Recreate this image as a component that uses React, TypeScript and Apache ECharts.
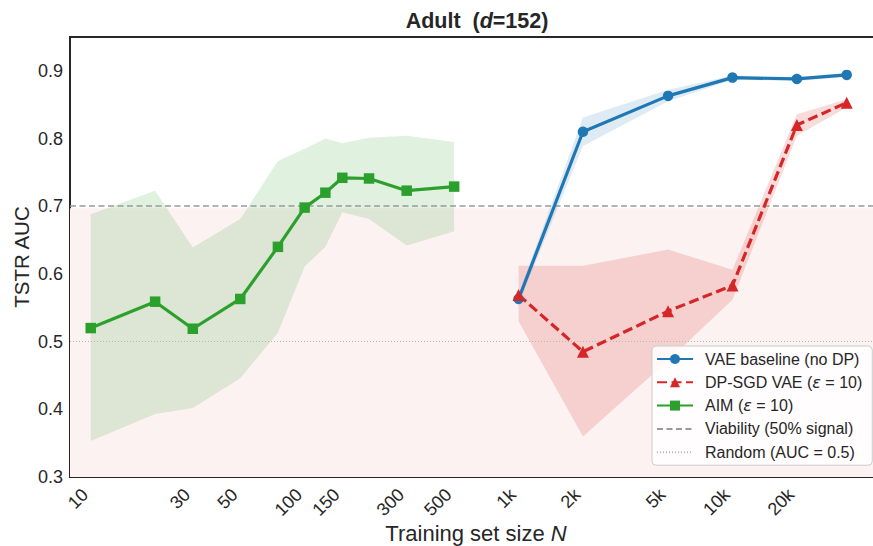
import React, { useEffect, useRef } from "react";
import * as echarts from "echarts";

// ---------- data ----------
const X_TICK_VALUES = [10, 30, 50, 100, 150, 300, 500, 1000, 2000, 5000, 10000, 20000];
const X_TICK_LABELS = ["10", "30", "50", "100", "150", "300", "500", "1k", "2k", "5k", "10k", "20k"];
const Y_TICK_VALUES = [0.3, 0.4, 0.5, 0.6, 0.7, 0.8, 0.9];

const AIM_N = [10, 20, 30, 50, 75, 100, 125, 150, 200, 300, 500];
const AIM_MEAN = [0.52, 0.559, 0.519, 0.563, 0.64, 0.698, 0.72, 0.742, 0.741, 0.723, 0.729];
const AIM_LOW = [0.353, 0.393, 0.402, 0.446, 0.513, 0.611, 0.64, 0.691, 0.681, 0.642, 0.663];
const AIM_HIGH = [0.688, 0.723, 0.639, 0.681, 0.767, 0.785, 0.8, 0.793, 0.801, 0.804, 0.795];

const VAE_N = [1000, 2000, 5000, 10000, 20000, 34189];
const VAE_MEAN = [0.563, 0.81, 0.863, 0.89, 0.888, 0.894];
const VAE_LOW = [0.556, 0.789, 0.855, 0.887, 0.885, 0.891];
const VAE_HIGH = [0.57, 0.831, 0.872, 0.893, 0.891, 0.897];

const DP_N = [1000, 2000, 5000, 10000, 20000, 34189];
const DP_MEAN = [0.569, 0.485, 0.545, 0.583, 0.82, 0.853];
const DP_LOW = [0.53, 0.36, 0.472, 0.562, 0.804, 0.846];
const DP_HIGH = [0.612, 0.612, 0.636, 0.606, 0.836, 0.858];

const VIABILITY = 0.697;
const RANDOM = 0.5;

const SERIES_NAMES = [
  "VAE baseline (no DP)",
  "DP-SGD VAE (ε = 10)",
  "AIM (ε = 10)",
  "Viability (50% signal)",
  "Random (AUC = 0.5)",
];

const FONT = "'Liberation Sans', Arial, Helvetica, sans-serif";
const INK = "#262626";
const BLUE = "#1f77b4";
const RED = "#d62728";
const GREEN = "#2ca02c";

function bandSeries(name: string, xs: number[], low: number[], high: number[], fill: string) {
  return {
    type: "custom",
    name,
    silent: true,
    z: 1,
    data: xs.map((x, i) => [x, low[i], high[i]]),
    encode: { x: 0, y: [1, 2] },
    renderItem: (params: any, api: any) => {
      if (params.dataIndex !== 0) return null;
      const pts: number[][] = [];
      for (let i = 0; i < xs.length; i++) pts.push(api.coord([xs[i], high[i]]));
      for (let i = xs.length - 1; i >= 0; i--) pts.push(api.coord([xs[i], low[i]]));
      return { type: "polygon", shape: { points: pts }, style: { fill } };
    },
  };
}

function lineSeries(name: string, xs: number[], ys: number[], color: string, symbol: string, symbolSize: number, dash: any) {
  return {
    type: "line",
    name,
    z: 5,
    data: xs.map((x, i) => [x, ys[i]]),
    symbol,
    symbolSize,
    showSymbol: true,
    lineStyle: { color, width: 3.2, type: dash },
    itemStyle: { color },
  };
}

function refLineSeries(name: string, y: number, color: string, width: number, dash: any) {
  return {
    type: "line",
    name,
    data: [],
    z: 3,
    symbol: "none",
    lineStyle: { color, width, type: dash },
    itemStyle: { color, opacity: 0 },
    markLine: {
      silent: true,
      symbol: "none",
      label: { show: false },
      lineStyle: { color, width, type: dash, opacity: 1 },
      data: [{ yAxis: y }],
    },
  };
}

export default function App() {
  const ref = useRef<HTMLDivElement>(null);
  useEffect(() => {
    const chart = echarts.init(ref.current!, undefined, { renderer: "svg" });
    const option: any = {
      animation: false,
      backgroundColor: "#ffffff",
      textStyle: { fontFamily: FONT },
      title: {
        text: "{b|Adult  (}{i|d}{b|=152)}",
        left: 472,
        textAlign: "center",
        top: 5,
        textStyle: {
          rich: {
            b: { fontSize: 21.5, fontWeight: "bold", color: INK, fontFamily: FONT },
            i: { fontSize: 21.5, fontWeight: "bold", fontStyle: "italic", color: INK, fontFamily: FONT },
          },
        },
      },
      grid: {
        left: 70,
        top: 37,
        width: 812,
        height: 440,
        show: true,
        borderColor: INK,
        borderWidth: 2,
        backgroundColor: "transparent",
        containLabel: false,
        outerBoundsMode: "none",
      },
      legend: {
        orient: "vertical",
        left: 652,
        top: 346,
        data: SERIES_NAMES,
        itemWidth: 36,
        itemHeight: 12.5,
        itemGap: 5.3,
        padding: [4, 10, 4, 4],
        backgroundColor: "rgba(255,255,255,0.85)",
        borderColor: "#cccccc",
        borderWidth: 1,
        borderRadius: 4,
        formatter: (name: string) =>
          name
            .split("ε")
            .map((s) => (s ? `{t|${s}}` : ""))
            .join("{e|ε}"),
        textStyle: {
          fontSize: 16,
          color: INK,
          fontFamily: FONT,
          lineHeight: 18,
          padding: [0, 0, 0, 7],
          rich: {
            t: { fontSize: 16, color: INK, fontFamily: FONT, lineHeight: 18 },
            e: { fontSize: 16, color: INK, fontFamily: "'DejaVu Sans', sans-serif", fontStyle: "italic", lineHeight: 18 },
          },
        },
      },
      xAxis: {
        type: "log",
        logBase: 10,
        min: 8,
        max: 50000,
        name: "{a|Training set size }{b|N}",
        nameLocation: "middle",
        nameGap: 45,
        nameMoveOverlap: false,
        nameTextStyle: {
          rich: {
            a: { fontSize: 22, color: INK, fontFamily: FONT },
            b: { fontSize: 22, color: INK, fontStyle: "italic", fontFamily: FONT },
          },
        },
        axisLine: { show: false },
        axisTick: { show: false },
        minorTick: { show: false },
        splitLine: { show: false },
        minorSplitLine: { show: false },
        axisLabel: {
          customValues: X_TICK_VALUES,
          rotate: 45,
          margin: 9,
          padding: [0, 8, 0, 0],
          fontSize: 18,
          color: INK,
          fontFamily: FONT,
          formatter: (v: number) => {
            const i = X_TICK_VALUES.findIndex((t) => Math.abs(t - v) / t < 1e-6);
            return i >= 0 ? X_TICK_LABELS[i] : "";
          },
        },
      },
      yAxis: {
        type: "value",
        min: 0.3,
        max: 0.95,
        interval: 0.1,
        name: "TSTR AUC",
        nameLocation: "middle",
        nameGap: 38,
        nameMoveOverlap: false,
        nameTextStyle: { fontSize: 20.5, color: INK, fontFamily: FONT },
        axisLine: { show: false },
        axisTick: { show: false },
        splitLine: { show: false },
        axisLabel: {
          customValues: Y_TICK_VALUES,
          margin: 7,
          fontSize: 18,
          color: INK,
          fontFamily: FONT,
          formatter: (v: number) => v.toFixed(1),
        },
      },
      series: [
        {
          type: "line",
          name: "__span",
          data: [],
          z: 0,
          silent: true,
          markArea: {
            silent: true,
            itemStyle: { color: "#fcf2f1" },
            data: [[{ yAxis: 0.3 }, { yAxis: VIABILITY }]],
          },
        },
        bandSeries("__aimBand", AIM_N, AIM_LOW, AIM_HIGH, "rgba(44,160,44,0.15)"),
        bandSeries("__vaeBand", VAE_N, VAE_LOW, VAE_HIGH, "rgba(31,119,180,0.15)"),
        bandSeries("__dpBand", DP_N, DP_LOW, DP_HIGH, "rgba(214,39,40,0.17)"),
        refLineSeries(SERIES_NAMES[3], VIABILITY, "#999999", 1.6, [6, 3.5]),
        refLineSeries(SERIES_NAMES[4], RANDOM, "#b5b5b5", 1, [1, 2]),
        lineSeries(SERIES_NAMES[0], VAE_N, VAE_MEAN, BLUE, "circle", 10.5, "solid"),
        lineSeries(SERIES_NAMES[1], DP_N, DP_MEAN, RED, "triangle", 12, [10, 4.5]),
        lineSeries(SERIES_NAMES[2], AIM_N, AIM_MEAN, GREEN, "rect", 10.5, "solid"),
      ],
    };
    chart.setOption(option);
    return () => chart.dispose();
  }, []);
  return (
    <div
      ref={ref}
      style={{ position: "fixed", left: 0, top: 0, width: 873, height: 546 }}
    />
  );
}
